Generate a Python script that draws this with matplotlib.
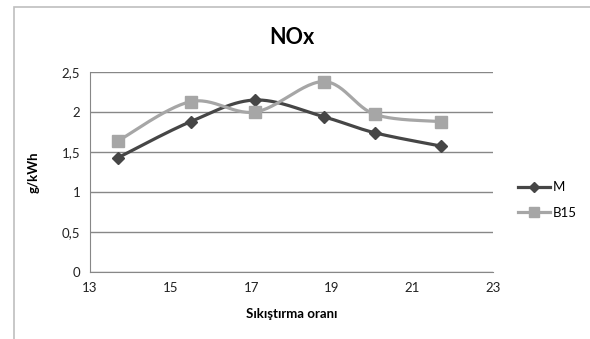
import matplotlib
matplotlib.use("Agg")
import matplotlib.pyplot as plt
import matplotlib.patches as mpatches
import numpy as np

plt.rcParams["font.family"] = ["Lato", "DejaVu Sans"]

# compression ratio vs NOx (g/kWh)
ratio = [13.7, 15.5, 17.1, 18.8, 20.07, 21.7]
nox_m = [1.43, 1.88, 2.15, 1.94, 1.74, 1.575]
nox_b15 = [1.64, 2.13, 2.0, 2.38, 1.97, 1.88]
series_names = ["M", "B15"]
y_ticks = [0, 0.5, 1, 1.5, 2, 2.5]
x_ticks = [13, 15, 17, 19, 21, 23]

COLORS = {"M": "#464646", "B15": "#a6a6a6", "grid": "#878787"}


def smooth(x, y, sx, sy, n=30):
    """Catmull-Rom style curve through the points (in screen-scaled space)."""
    p = np.column_stack([np.asarray(x) * sx, np.asarray(y) * sy])
    pts = []
    for i in range(len(p) - 1):
        p0 = p[i - 1] if i > 0 else p[i]
        p3 = p[i + 2] if i + 2 < len(p) else p[i + 1]
        p1, p2 = p[i], p[i + 1]
        c1 = p1 + (p2 - p0) / 6
        c2 = p2 - (p3 - p1) / 6
        t = np.linspace(0, 1, n)[:, None]
        seg = ((1 - t) ** 3) * p1 + 3 * ((1 - t) ** 2) * t * c1 \
            + 3 * (1 - t) * t ** 2 * c2 + t ** 3 * p2
        pts.append(seg if i == 0 else seg[1:])
    pts = np.vstack(pts)
    return pts[:, 0] / sx, pts[:, 1] / sy


fig = plt.figure(figsize=(5.9, 3.39), dpi=100)
ax = fig.add_axes([0.1525, 0.1976, 0.6831, 0.59])

# outer chart frame (left / top edges)
fig.patches.append(mpatches.Rectangle((14 / 590, -0.1), 1.2, 1 - 7 / 339 + 0.1,
                                      transform=fig.transFigure, fill=False,
                                      edgecolor="#bfbfbf", linewidth=1.2))

ax.set_xlim(13, 23)
ax.set_ylim(0, 2.5)
sx, sy = 40.3, 80.0

styles = {"M": dict(marker="D", ms=6.5), "B15": dict(marker="s", ms=8)}
for name, vals in zip(series_names, [nox_m, nox_b15]):
    c = COLORS[name]
    xs, ys = smooth(ratio, vals, sx, sy)
    ax.plot(xs, ys, color=c, lw=2.3, zorder=3)
    ax.plot(ratio, vals, linestyle="none", color=c, markeredgecolor=c,
            zorder=4, **styles[name])

ax.set_yticks(y_ticks)
ax.set_yticklabels([f"{v:g}".replace(".", ",") for v in y_ticks], fontsize=9.5)
ax.set_xticks(x_ticks)
ax.set_xticklabels([str(v) for v in x_ticks], fontsize=9.5)
ax.tick_params(length=0, pad=7, labelcolor="#222222")
ax.yaxis.grid(True, color=COLORS["grid"], lw=1)
ax.set_axisbelow(True)
for s in ["top", "right"]:
    ax.spines[s].set_visible(False)
for s in ["left", "bottom"]:
    ax.spines[s].set_color(COLORS["grid"])

ax.set_title("NOx", fontsize=15.5, fontweight="bold", pad=20)
ax.set_xlabel("Sıkıştırma oranı", fontsize=9.5, fontweight="bold", labelpad=10)
ax.set_ylabel("g/kWh", fontsize=9.5, fontweight="bold", labelpad=16)

handles = [plt.Line2D([], [], color=COLORS[n], lw=2.3, markeredgecolor=COLORS[n],
                      marker=styles[n]["marker"], ms=styles[n]["ms"] - 1)
           for n in series_names]
fig.legend(handles, series_names, loc="center left",
           bbox_to_anchor=(0.858, 0.41), frameon=False, fontsize=9.5,
           handlelength=2.4, handletextpad=0.2, labelspacing=1.0)

fig.savefig("out.png", dpi=100, facecolor="white")
